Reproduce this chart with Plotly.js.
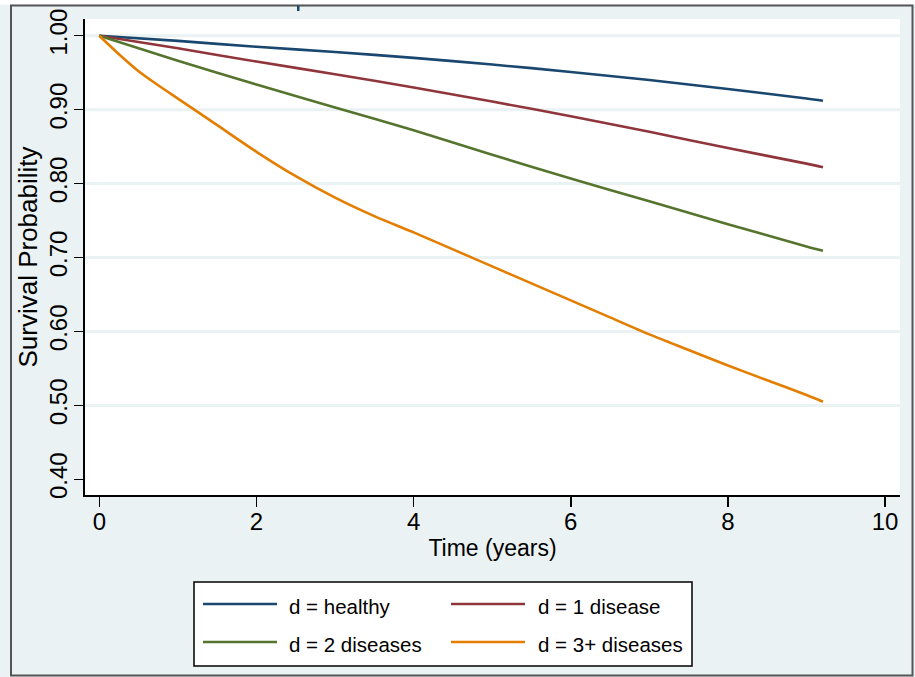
<!DOCTYPE html>
<html>
<head>
<meta charset="utf-8">
<script src="https://cdn.plot.ly/plotly-3.0.1.min.js"></script>
<style>
  html, body { margin: 0; padding: 0; background: #ffffff; }
  #chart { width: 915px; height: 677px; }
</style>
</head>
<body>
<div id="chart"></div>
<script>
// ---- Data ----
const seriesNames = ['d = healthy', 'd = 1 disease', 'd = 2 diseases', 'd = 3+ diseases'];
const seriesColors = ['#1a476f', '#90353b', '#55752f', '#e37e00'];

const timeHealthy = [0, 1, 2, 3, 4, 5, 6, 7, 8, 9, 9.21];
const survHealthy = [1.000, 0.993, 0.985, 0.978, 0.970, 0.961, 0.951, 0.940, 0.928, 0.915, 0.912];

const time1Disease = [0, 1, 2, 3, 4, 5, 6, 7, 8, 9, 9.21];
const surv1Disease = [1.000, 0.983, 0.965, 0.948, 0.930, 0.911, 0.891, 0.870, 0.848, 0.827, 0.822];

const time2Diseases = [0, 0.5, 1, 1.5, 2, 3, 4, 5, 6, 7, 8, 9, 9.21];
const surv2Diseases = [1.000, 0.983, 0.966, 0.950, 0.934, 0.903, 0.872, 0.839, 0.807, 0.776, 0.745, 0.715, 0.709];

const time3Diseases = [0, 0.25, 0.5, 0.75, 1, 1.5, 2, 2.5, 3, 3.5, 4, 4.5, 5, 5.5, 6, 6.5, 7, 7.5, 8, 8.5, 9, 9.21];
const surv3Diseases = [1.000, 0.975, 0.952, 0.933, 0.915, 0.879, 0.843, 0.810, 0.781, 0.756, 0.734, 0.711, 0.688, 0.665, 0.642, 0.619, 0.596, 0.575, 0.554, 0.534, 0.514, 0.505];

const xTicks = [0, 2, 4, 6, 8, 10];
const yTicks = [0.40, 0.50, 0.60, 0.70, 0.80, 0.90, 1.00];

const xTitle = 'Time (years)';
const yTitle = 'Survival Probability';

// ---- Layout geometry ----
const FIG_W = 915, FIG_H = 677;
const M = { l: 85, r: 15, t: 19, b: 182 };
const PW = FIG_W - M.l - M.r, PH = FIG_H - M.t - M.b;
const px2x = px => (px - M.l) / PW;
const py2y = py => (M.t + PH - py) / PH;

const FONT = 'Liberation Sans, Arial, sans-serif';
const BG = '#eaf2f3';

const xs = [timeHealthy, time1Disease, time2Diseases, time3Diseases];
const ys = [survHealthy, surv1Disease, surv2Diseases, surv3Diseases];

const traces = seriesNames.map((name, i) => ({
  type: 'scatter',
  mode: 'lines',
  name: name,
  x: xs[i],
  y: ys[i],
  line: { color: seriesColors[i], width: 2.6, shape: 'spline', smoothing: 0.8 },
  showlegend: false,
  hoverinfo: 'x+y+name'
}));

const shapes = [];
// outer frame
shapes.push({ type: 'rect', xref: 'paper', yref: 'paper', layer: 'below',
  x0: px2x(0), x1: px2x(915), y0: py2y(0), y1: py2y(4.5),
  fillcolor: '#ffffff', line: { width: 0 } });
shapes.push({ type: 'rect', xref: 'paper', yref: 'paper', layer: 'above',
  x0: px2x(11), x1: px2x(912.5), y0: py2y(5.5), y1: py2y(675.5),
  line: { color: '#555555', width: 2 } });
// small cropped mark at top
shapes.push({ type: 'rect', xref: 'paper', yref: 'paper', layer: 'above',
  x0: px2x(297), x1: px2x(299.5), y0: py2y(6), y1: py2y(11),
  fillcolor: '#1a476f', line: { width: 0 } });
// horizontal gridlines (Stata omits the one at the axis minimum)
yTicks.filter(v => v > yTicks[0]).forEach(v => {
  shapes.push({ type: 'line', xref: 'paper', yref: 'y', layer: 'below',
    x0: 0, x1: 1, y0: v, y1: v, line: { color: BG, width: 3 } });
});

// legend box
const legBox = { x0: 194, x1: 692, y0: 582, y1: 666 };
shapes.push({ type: 'rect', xref: 'paper', yref: 'paper', layer: 'above',
  x0: px2x(legBox.x0), x1: px2x(legBox.x1), y0: py2y(legBox.y1), y1: py2y(legBox.y0),
  fillcolor: '#ffffff', line: { color: '#000000', width: 1.5 } });
const legCols = [{ l0: 203, l1: 277, tx: 288 }, { l0: 451, l1: 525, tx: 537 }];
const legRows = [604, 642];
const annotations = [];
seriesNames.forEach((name, i) => {
  const c = legCols[i % 2], r = legRows[Math.floor(i / 2)];
  shapes.push({ type: 'line', xref: 'paper', yref: 'paper', layer: 'above',
    x0: px2x(c.l0), x1: px2x(c.l1), y0: py2y(r), y1: py2y(r),
    line: { color: seriesColors[i], width: 2.6 } });
  annotations.push({ xref: 'paper', yref: 'paper', x: px2x(c.tx - 1), y: py2y(r + 2),
    xanchor: 'left', yanchor: 'middle', showarrow: false, text: name,
    font: { family: FONT, size: 20.5, color: '#000000' } });
});

const layout = {
  width: FIG_W, height: FIG_H,
  margin: M,
  paper_bgcolor: BG,
  plot_bgcolor: '#ffffff',
  showlegend: false,
  xaxis: {
    range: [-0.182, 10.19],
    tickmode: 'array', tickvals: xTicks, ticktext: xTicks.map(String),
    ticks: 'outside', ticklen: 10, tickwidth: 1.5, tickcolor: '#000000',
    ticklabelstandoff: -6,
    showline: true, linewidth: 2, linecolor: '#000000',
    showgrid: false, zeroline: false,
    tickfont: { family: FONT, size: 24, color: '#000000' },
    title: { text: xTitle, font: { family: FONT, size: 23, color: '#000000' }, standoff: 6 }
  },
  yaxis: {
    range: [0.3788, 1.0226],
    tickmode: 'array', tickvals: yTicks, ticktext: yTicks.map(v => v.toFixed(2)),
    tickangle: -90,
    ticks: 'outside', ticklen: 9, tickwidth: 1.5, tickcolor: '#000000',
    ticklabelstandoff: -3,
    showline: true, linewidth: 2, linecolor: '#000000',
    showgrid: false, zeroline: false,
    tickfont: { family: FONT, size: 24, color: '#000000' },
    title: { text: yTitle, font: { family: FONT, size: 26, color: '#000000' }, standoff: 0 }
  },
  shapes: shapes,
  annotations: annotations
};

Plotly.newPlot('chart', traces, layout, { displayModeBar: false, staticPlot: true });
</script>
</body>
</html>
